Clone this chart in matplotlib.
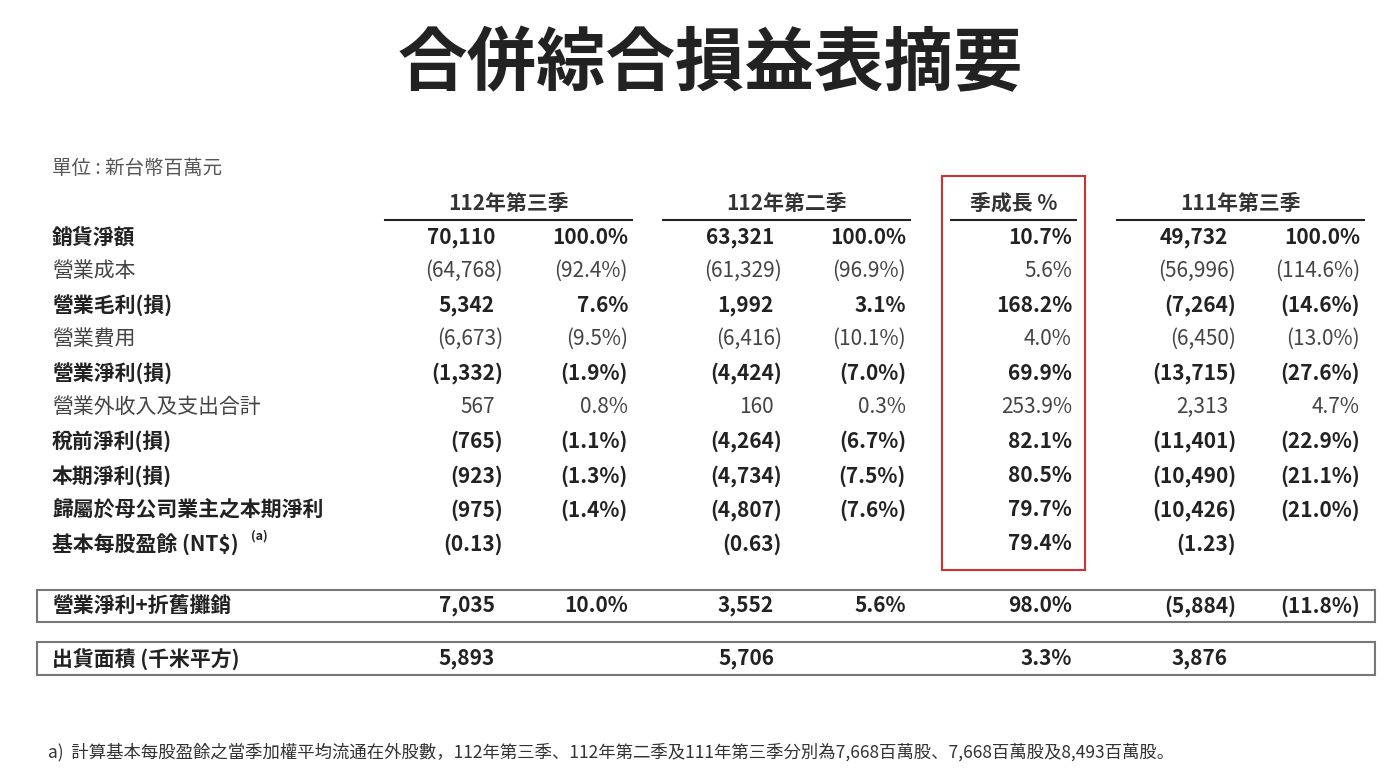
import matplotlib.pyplot as plt
from matplotlib.patches import Rectangle

plt.rcParams["font.family"] = ["Noto Sans CJK TC", "Noto Sans CJK JP", "Noto Sans CJK SC", "DejaVu Sans"]

# ---- 資料 ----
periods = ["112年第三季", "112年第二季", "季成長 %", "111年第三季"]
row_labels = ["銷貨淨額", "營業成本", "營業毛利(損)", "營業費用", "營業淨利(損)",
              "營業外收入及支出合計", "稅前淨利(損)", "本期淨利(損)",
              "歸屬於母公司業主之本期淨利", "基本每股盈餘 (NT$)"]
row_bold = [True, False, True, False, True, False, True, True, True, True]
q3_112 = ["70,110", "(64,768)", "5,342", "(6,673)", "(1,332)", "567", "(765)", "(923)", "(975)", "(0.13)"]
q3_112_pct = ["100.0%", "(92.4%)", "7.6%", "(9.5%)", "(1.9%)", "0.8%", "(1.1%)", "(1.3%)", "(1.4%)", ""]
q2_112 = ["63,321", "(61,329)", "1,992", "(6,416)", "(4,424)", "160", "(4,264)", "(4,734)", "(4,807)", "(0.63)"]
q2_112_pct = ["100.0%", "(96.9%)", "3.1%", "(10.1%)", "(7.0%)", "0.3%", "(6.7%)", "(7.5%)", "(7.6%)", ""]
qoq = ["10.7%", "5.6%", "168.2%", "4.0%", "69.9%", "253.9%", "82.1%", "80.5%", "79.7%", "79.4%"]
q3_111 = ["49,732", "(56,996)", "(7,264)", "(6,450)", "(13,715)", "2,313", "(11,401)", "(10,490)", "(10,426)", "(1.23)"]
q3_111_pct = ["100.0%", "(114.6%)", "(14.6%)", "(13.0%)", "(27.6%)", "4.7%", "(22.9%)", "(21.1%)", "(21.0%)", ""]

box_labels = ["營業淨利+折舊攤銷", "出貨面積 (千米平方)"]
box_values = [["7,035", "10.0%", "3,552", "5.6%", "98.0%", "(5,884)", "(11.8%)"],
              ["5,893", "", "5,706", "", "3.3%", "3,876", ""]]

# ---- 版面 ----
fig = plt.figure(figsize=(13.97, 7.74), dpi=100)
ax = fig.add_axes([0, 0, 1, 1])
ax.set_xlim(0, 1397)
ax.set_ylim(774, 0)
ax.axis("off")

ink = "#222222"
ax.text(710, 65, "合併綜合損益表摘要", ha="center", va="center", fontsize=50,
        fontweight="bold", color=ink)
ax.text(52, 168, "單位 : 新台幣百萬元", ha="left", va="center", fontsize=14, color="#555555")

col_x = [503, 628, 782, 906, 1072, 1236, 1360]
head_spans = [(385, 632), (663, 910), (951, 1076), (1117, 1364)]
for (x0, x1), p in zip(head_spans, periods):
    ax.text((x0 + x1) / 2, 203, p, ha="center", va="center", fontsize=15,
            fontweight="bold", color="#333333")
    ax.plot([x0, x1], [220, 220], color=ink, lw=1.5)


def put_values(y, vals, w, c):
    for x, v in zip(col_x, vals):
        xx = x - 8 if x in (503, 782, 1236) and v and not v.startswith("(") else x
        ax.text(xx, y, v, ha="right", va="center", fontsize=15, fontweight=w, color=c)


row_y = [237, 271, 305, 339, 373, 407, 441, 476, 510, 544]
for i, y in enumerate(row_y):
    w = "bold" if row_bold[i] else "normal"
    c = ink if row_bold[i] else "#444444"
    ax.text(52, y, row_labels[i], ha="left", va="center", fontsize=15, fontweight=w, color=c)
    put_values(y, [q3_112[i], q3_112_pct[i], q2_112[i], q2_112_pct[i], qoq[i],
                   q3_111[i], q3_111_pct[i]], w, c)
ax.text(251, 536, "(a)", ha="left", va="center", fontsize=9, fontweight="bold", color=ink)

ax.add_patch(Rectangle((942, 176), 143, 394, fill=False, ec="#d03030", lw=1.5))

for j, (y0, y1) in enumerate([(590, 622), (642, 675)]):
    ax.add_patch(Rectangle((37, y0), 1338, y1 - y0, fill=False, ec="#777777", lw=1.5))
    y = (y0 + y1) / 2
    ax.text(52, y, box_labels[j], ha="left", va="center", fontsize=15, fontweight="bold", color=ink)
    put_values(y, box_values[j], "bold", ink)

ax.text(48, 752, "a)  計算基本每股盈餘之當季加權平均流通在外股數，112年第三季、112年第二季及111年第三季分別為7,668百萬股、7,668百萬股及8,493百萬股。",
        ha="left", va="center", fontsize=12.5, color="#333333")

fig.savefig("out.png", dpi=100)
